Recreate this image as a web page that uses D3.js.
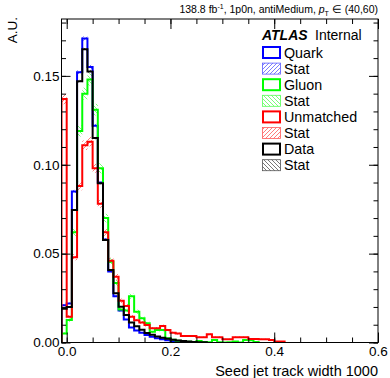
<!DOCTYPE html>
<html>
<head>
<meta charset="utf-8">
<script src="https://cdn.jsdelivr.net/npm/d3@7"></script>
<style>
  body { margin: 0; background: #fff; }
  text { font-family: "Liberation Sans", Arial, sans-serif; }
</style>
</head>
<body>
<div id="chart"></div>
<script>
// bins of width 0.01, first bin starts at -0.01
var binStart = -0.01;
var binWidth = 0.01;

var quark = [0.021, 0.022, 0.085, 0.152, 0.171, 0.155, 0.122, 0.090, 0.058, 0.040,
  0.026, 0.018, 0.013, 0.0085, 0.0068, 0.0055, 0.0042, 0.0032, 0.0024, 0.0018,
  0.0013, 0.0009, 0.0006, 0.0004, 0.0003, 0.0002];
var gluon = [0.005, 0.0127, 0.062, 0.119, 0.140, 0.148, 0.131, 0.098, 0.070, 0.0455,
  0.0335, 0.0185, 0.018, 0.026, 0.0173, 0.0136, 0.0108, 0.006, 0.007, 0.007,
  0.0024, 0.0015, 0.001, 0.0005, 0.0004, 0.0002, 0.0008, 0.0003, 0.0001, 0.0014,
  0.0002, 0.0, 0.0001, 0.0005, 0.0, 0.0014, 0.0012, 0.0003];
var unmatched = [0.137, 0.0145, 0.048, 0.088, 0.111, 0.113, 0.098, 0.078, 0.062, 0.046,
  0.037, 0.0235, 0.0205, 0.0145, 0.0125, 0.0112, 0.0098, 0.008, 0.008, 0.0093,
  0.007, 0.0055, 0.005, 0.0037, 0.0037, 0.0037, 0.003, 0.003, 0.0046, 0.003,
  0.003, 0.0018, 0.0018, 0.003, 0.003, 0.003, 0.002, 0.002, 0.0018, 0.0018,
  0.0014, 0.0005, 0.0005];
var data = [0.019, 0.020, 0.0746, 0.147, 0.165, 0.1525, 0.115, 0.0896, 0.0577, 0.0408,
  0.0277, 0.0201, 0.0155, 0.0112, 0.0092, 0.0072, 0.0054, 0.0043, 0.0034, 0.0027,
  0.0021, 0.0015, 0.0011, 0.0008, 0.0005, 0.0003, 0.0002, 0.0001];

var seriesNames = ["Quark", "Gluon", "Unmatched", "Data"];
var seriesColors = ["#0000ff", "#00ff00", "#ff0000", "#000000"];
var hatchColors = ["#5a5aff", "#55ff55", "#ff5a5a", "#555555"];
var hatchDir = ["up", "down", "up", "down"];
var statScale = [0.003, 0.009, 0.008, 0.002];

var xTickLabels = ["0.0", "0.2", "0.4", "0.6"];
var yTickLabels = ["0.00", "0.05", "0.10", "0.15"];

var width = 390, height = 378;
var frame = {left: 61.5, right: 378, top: 19, bottom: 342.5};

var svg = d3.select("#chart").append("svg")
  .attr("width", width)
  .attr("height", height);

var x = d3.scaleLinear().domain([-0.01, 0.6]).range([frame.left, frame.right]);
var y = d3.scaleLinear().domain([0, 0.182]).range([frame.bottom, frame.top]);

// hatch patterns
var defs = svg.append("defs");
seriesNames.forEach(function(n, i) {
  var p = defs.append("pattern")
    .attr("id", "hatch" + i)
    .attr("patternUnits", "userSpaceOnUse")
    .attr("width", 4).attr("height", 4);
  if (hatchDir[i] == "up") {
    p.append("path").attr("d", "M-1,1 l2,-2 M0,4 l4,-4 M3,5 l2,-2");
  } else {
    p.append("path").attr("d", "M-1,3 l2,2 M0,0 l4,4 M3,-1 l2,2");
  }
  p.select("path").attr("stroke", hatchColors[i]).attr("stroke-width", 0.8);
});

defs.append("clipPath").attr("id", "clip")
  .append("rect")
  .attr("x", frame.left).attr("y", frame.top)
  .attr("width", frame.right - frame.left)
  .attr("height", frame.bottom - frame.top);

var allSeries = [quark, gluon, unmatched, data];
var plot = svg.append("g").attr("clip-path", "url(#clip)");

// stat bands
allSeries.forEach(function(vals, s) {
  plot.append("g").selectAll("rect")
    .data(vals.map(function(v, i) { return {v: v, i: i}; }).filter(function(d) { return d.v > 0; }))
    .enter().append("rect")
    .attr("x", function(d) { return x(binStart + d.i * binWidth); })
    .attr("width", function(d) { return x(binStart + (d.i + 1) * binWidth) - x(binStart + d.i * binWidth); })
    .attr("y", function(d) { return y(d.v + statScale[s] * Math.sqrt(d.v)); })
    .attr("height", function(d) {
      var e = statScale[s] * Math.sqrt(d.v);
      return y(Math.max(d.v - e, 0)) - y(d.v + e);
    })
    .attr("fill", "url(#hatch" + s + ")");
});

// histogram outlines
var line = d3.line()
  .x(function(d) { return x(d[0]); })
  .y(function(d) { return y(d[1]); });

allSeries.forEach(function(vals, s) {
  var pts = [[binStart, 0]];
  vals.forEach(function(v, i) {
    pts.push([binStart + i * binWidth, v]);
    pts.push([binStart + (i + 1) * binWidth, v]);
  });
  pts.push([binStart + vals.length * binWidth, 0]);
  plot.append("path")
    .attr("d", line(pts))
    .attr("fill", "none")
    .attr("stroke", seriesColors[s])
    .attr("stroke-width", 2);
});

// axes, ticks inside the frame
function styleAxis(g) {
  g.select(".domain").remove();
  g.selectAll("line").attr("stroke", "#000");
  g.selectAll("text").attr("font-size", 13.5).attr("fill", "#000");
}

var xMajor = [0, 0.2, 0.4, 0.6];
var xMinor = d3.range(0, 0.601, 0.05);
var yMajor = [0, 0.05, 0.10, 0.15];
var yMinor = d3.range(0, 0.1821, 0.01);

svg.append("g").attr("transform", "translate(0," + frame.bottom + ")")
  .call(d3.axisBottom(x).tickValues(xMinor).tickSize(-5).tickFormat(""))
  .call(styleAxis);
svg.append("g").attr("transform", "translate(0," + frame.bottom + ")")
  .call(d3.axisBottom(x).tickValues(xMajor).tickSize(-10).tickPadding(4)
    .tickFormat(function(d, i) { return xTickLabels[i]; }))
  .call(styleAxis);
svg.append("g").attr("transform", "translate(0," + frame.top + ")")
  .call(d3.axisTop(x).tickValues(xMinor).tickSize(-5).tickFormat(""))
  .call(styleAxis);
svg.append("g").attr("transform", "translate(0," + frame.top + ")")
  .call(d3.axisTop(x).tickValues(xMajor).tickSize(-10).tickFormat(""))
  .call(styleAxis);

svg.append("g").attr("transform", "translate(" + frame.left + ",0)")
  .call(d3.axisLeft(y).tickValues(yMinor).tickSize(-4.5).tickFormat(""))
  .call(styleAxis);
svg.append("g").attr("transform", "translate(" + frame.left + ",0)")
  .call(d3.axisLeft(y).tickValues(yMajor).tickSize(-9).tickPadding(2)
    .tickFormat(function(d, i) { return yTickLabels[i]; }))
  .call(styleAxis);
svg.append("g").attr("transform", "translate(" + frame.right + ",0)")
  .call(d3.axisRight(y).tickValues(yMinor).tickSize(-4.5).tickFormat(""))
  .call(styleAxis);
svg.append("g").attr("transform", "translate(" + frame.right + ",0)")
  .call(d3.axisRight(y).tickValues(yMajor).tickSize(-9).tickFormat(""))
  .call(styleAxis);

svg.append("rect")
  .attr("x", frame.left).attr("y", frame.top)
  .attr("width", frame.right - frame.left)
  .attr("height", frame.bottom - frame.top)
  .attr("fill", "none").attr("stroke", "#000").attr("stroke-width", 1);

// axis titles
svg.append("text")
  .attr("x", frame.right).attr("y", 376)
  .attr("text-anchor", "end").attr("font-size", 14.5)
  .text("Seed jet track width 1000");

svg.append("text")
  .attr("transform", "translate(17,17) rotate(-90)")
  .attr("text-anchor", "end").attr("font-size", 13.5)
  .text("A.U.");

// header
var hdr = svg.append("text")
  .attr("x", frame.right).attr("y", 13)
  .attr("text-anchor", "end").attr("font-size", 10.5);
hdr.append("tspan").text("138.8 fb");
hdr.append("tspan").attr("font-size", 7).attr("dy", -4).text("-1");
hdr.append("tspan").attr("dy", 4).text(", 1p0n, antiMedium, ");
hdr.append("tspan").attr("font-style", "italic").text("p");
hdr.append("tspan").attr("font-size", 7).attr("dy", 3).text("T");
hdr.append("tspan").attr("dy", -3).text(" \u2208 (40,60)");

// legend
var lg = svg.append("g");
lg.append("text").attr("x", 262).attr("y", 40)
  .attr("font-size", 14).attr("font-weight", "bold").attr("font-style", "italic")
  .text("ATLAS");
lg.append("text").attr("x", 315).attr("y", 40)
  .attr("font-size", 14).text("Internal");

var rowY0 = 52.5, rowStep = 16.1;
seriesNames.forEach(function(n, s) {
  var cy = rowY0 + rowStep * 2 * s;
  lg.append("rect").attr("x", 263).attr("y", cy - 5.5)
    .attr("width", 17).attr("height", 11)
    .attr("fill", "#fff").attr("stroke", seriesColors[s]).attr("stroke-width", 2);
  lg.append("text").attr("x", 284).attr("y", cy + 5).attr("font-size", 14.3).text(n);

  var cy2 = cy + rowStep;
  lg.append("rect").attr("x", 262.5).attr("y", cy2 - 5.5)
    .attr("width", 18).attr("height", 11)
    .attr("fill", "url(#hatch" + s + ")")
    .attr("stroke", hatchColors[s]).attr("stroke-width", 0.8);
  lg.append("text").attr("x", 284).attr("y", cy2 + 5).attr("font-size", 14.3).text("Stat");
});
</script>
</body>
</html>
